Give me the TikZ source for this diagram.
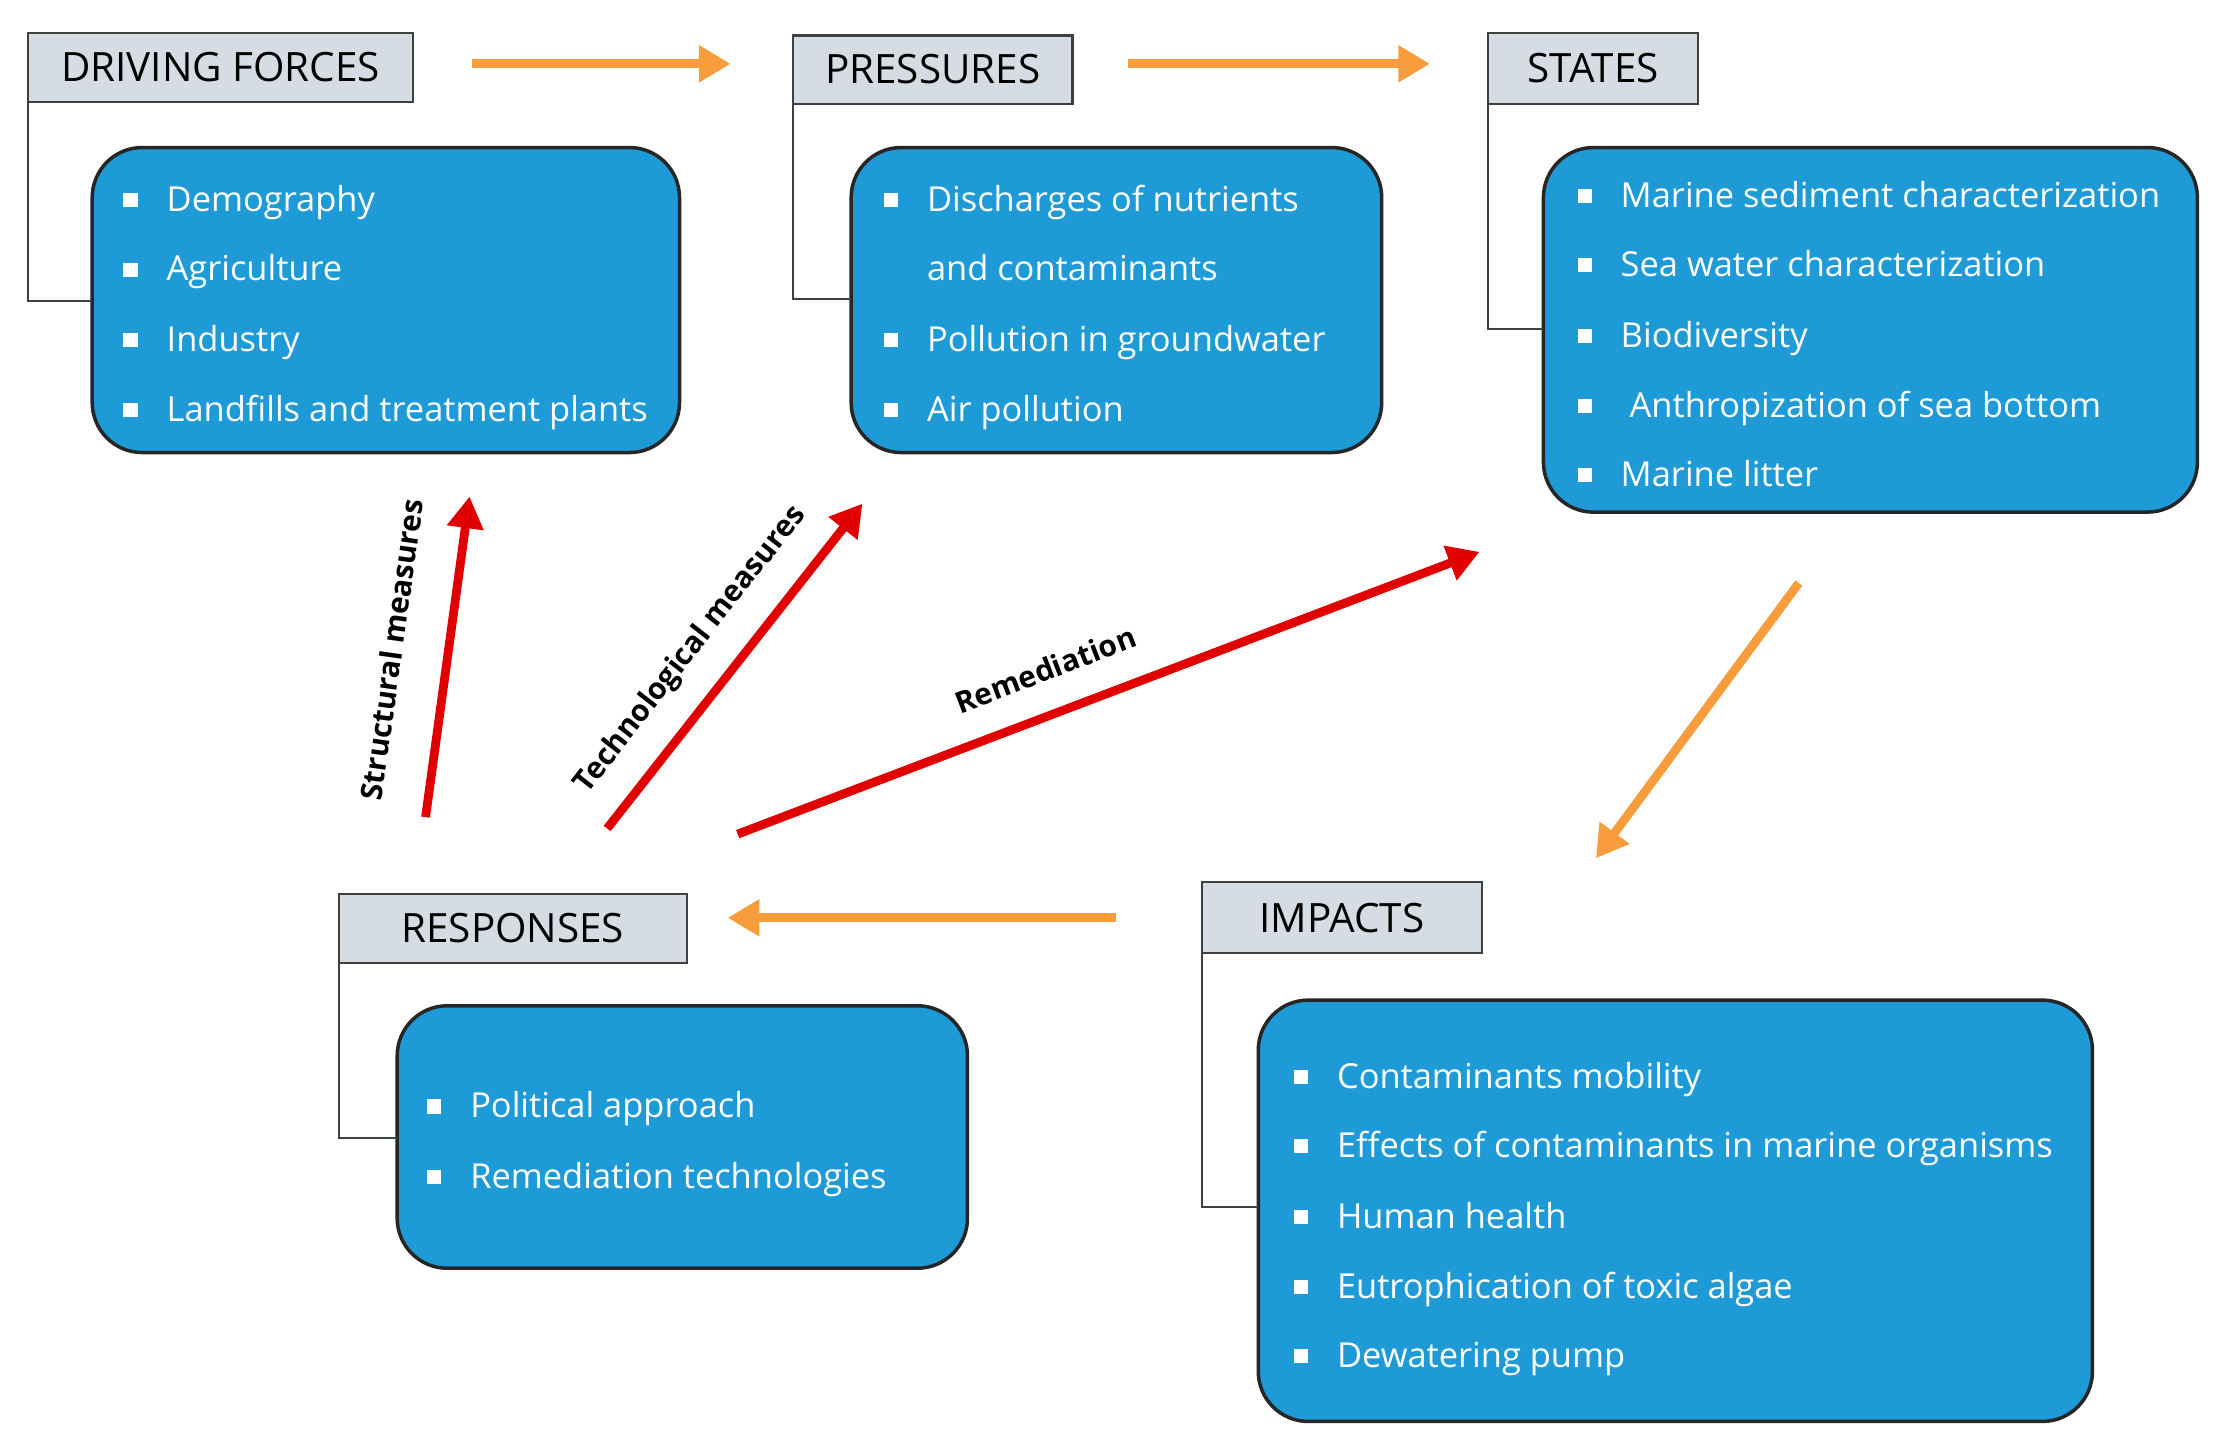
\documentclass[tikz,border=0pt]{standalone}
\usepackage{fontspec}
\setmainfont{Open Sans}
\usetikzlibrary{arrows.meta}
\definecolor{bluebox}{HTML}{1E9BD7}
\definecolor{hdr}{HTML}{D6DCE4}
\definecolor{org}{HTML}{F89C3C}
\definecolor{rd}{HTML}{E00000}
\begin{document}
\begin{tikzpicture}[x=0.01419cm,y=-0.01419cm,
  hd/.style={draw=black!75,fill=hdr,line width=0.6pt,inner sep=0,font=\fontsize{11.5}{14}\selectfont},
  bx/.style={draw=black!85,fill=bluebox,line width=1pt,rounded corners=0.5cm},
  it/.style={anchor=base west,text=white,font=\fontsize{9.8}{12}\selectfont,inner sep=0},
  bul/.style={fill=white,minimum size=4pt,inner sep=0},
  br/.style={draw=black!75,line width=0.6pt},
  oa/.style={draw=org,line width=2.5pt,-{Triangle[length=9pt,width=10pt]}},
  ra/.style={draw=rd,line width=2.5pt,-{Triangle[length=9pt,width=10pt]}},
  lb/.style={font=\bfseries\fontsize{8.5}{10}\selectfont,inner sep=1pt}]
\useasboundingbox (0,0) rectangle (1560,1016);
\draw[bx] (65,104) rectangle (479,319);
\draw[bx] (600,104) rectangle (974,319);
\draw[bx] (1088,104) rectangle (1549,361);
\draw[bx] (280,709) rectangle (682,894);
\draw[bx] (887,705) rectangle (1475,1002);
% brackets
\draw[br] (20,72) -- (20,212) -- (65,212);
\draw[br] (559,73) -- (559,211) -- (600,211);
\draw[br] (1049,73) -- (1049,232) -- (1088,232);
\draw[br] (239,679) -- (239,802) -- (280,802);
\draw[br] (847,672) -- (847,851) -- (887,851);
% headers
\draw[hd] (20,23) rectangle (291,72) node[midway] (df) {DRIVING FORCES};
\draw[hd] (559,25) rectangle (756,73) node[midway] (pr) {PRESSURES};
\draw[hd] (1049,23) rectangle (1197,73) node[midway] (st) {STATES};
\draw[hd] (239,630) rectangle (484,679) node[midway] (rs) {RESPONSES};
\draw[hd] (847,622) rectangle (1045,672) node[midway] (im) {IMPACTS};
% items
\foreach \y/\t in {141/Demography,190/Agriculture,240/Industry,289/Landfills and treatment plants}{
  \node[bul] at (92,\y) {}; \node[it] at (117,\y+8) {\t};}
\foreach \y/\t in {141/Discharges of nutrients,240/Pollution in groundwater,289/Air pollution}{
  \node[bul] at (628,\y) {}; \node[it] at (653,\y+8) {\t};}
\node[it] at (653,198) {and contaminants};
\foreach \y/\t in {138/Marine sediment characterization,187/Sea water characterization,237/Biodiversity,286/{\ Anthropization of sea bottom},335/Marine litter}{
  \node[bul] at (1117,\y) {}; \node[it] at (1142,\y+8) {\t};}
\foreach \y/\t in {780/Political approach,830/Remediation technologies}{
  \node[bul] at (306,\y) {}; \node[it] at (331,\y+8) {\t};}
\foreach \y/\t in {759/Contaminants mobility,808/Effects of contaminants in marine organisms,858/Human health,907/Eutrophication of toxic algae,956/Dewatering pump}{
  \node[bul] at (917,\y) {}; \node[it] at (942,\y+8) {\t};}
% arrow endpoints
\coordinate (o1a) at (333,45); \coordinate (o1b) at (515,45);
\coordinate (o2a) at (795,45); \coordinate (o2b) at (1008,45);
\coordinate (o3a) at (1268,411); \coordinate (o3b) at (1125,605);
\coordinate (o4a) at (787,647); \coordinate (o4b) at (513,647);
\coordinate (r1a) at (300,576); \coordinate (r1b) at (331,350);
\coordinate (r2a) at (428,584); \coordinate (r2b) at (608,355);
\coordinate (r3a) at (520,588); \coordinate (r3b) at (1043,389);
\draw[oa] (o1a) -- (o1b);
\draw[oa] (o2a) -- (o2b);
\draw[oa] (o3a) -- (o3b);
\draw[oa] (o4a) -- (o4b);
\draw[ra] (r1a) -- (r1b);
\draw[ra] (r2a) -- (r2b);
\draw[ra] (r3a) -- (r3b);
\node[lb,rotate=82] at (276,458) {Structural measures};
\node[lb,rotate=52] at (487,458) {Technological measures};
\node[lb,rotate=21] at (737,472) {Remediation};
\end{tikzpicture}
\end{document}
